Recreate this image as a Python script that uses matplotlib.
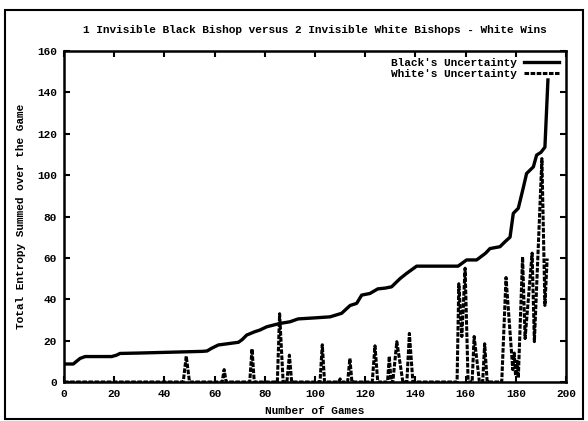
import matplotlib
matplotlib.use("Agg")
import matplotlib.pyplot as plt
from matplotlib.patches import Rectangle

# Black's uncertainty (breakpoints)
black_x = [0, 3.7, 5, 6.4, 8.4, 19, 21, 22.3, 30, 55, 57, 58.8, 61.5, 64, 69.5, 71,
           72.8, 76, 78, 80.8, 86, 90, 93.3, 100, 106, 110.6, 114, 116.6, 118.6, 121.9,
           125, 128, 130.5, 133.9, 136.5, 140.5, 157, 160.4, 164.4, 168, 169.7, 173.7,
           175.7, 177.7, 179, 181, 183, 184.3, 187, 188.3, 190, 191.6, 192.8]
black_y = [8.7, 8.7, 10, 11.4, 12.3, 12.3, 13, 13.8, 14, 14.8, 15, 16.3, 17.9, 18.3, 19.2, 20.5,
           22.7, 24.3, 25.1, 26.7, 28.3, 29.1, 30.5, 31, 31.5, 33.2, 37, 38, 42, 42.8,
           45, 45.4, 46, 50, 52.5, 56, 56, 59, 59, 62.3, 64.5, 65.4,
           67.8, 70, 81.5, 84, 94, 100.8, 104, 109.7, 111, 113.5, 146]

# White's uncertainty (breakpoints)
white_x = [0, 47.5, 48.7, 50, 63, 63.8, 64.6, 74, 74.9, 75.8, 85, 85.9, 87.3, 88.8, 89.8, 90.7,
           102, 102.9, 103.8, 109.5, 110, 110.5, 113, 113.9, 114.7, 122.8, 123.9, 125,
           128.9, 129.6, 130.3, 131, 132.6, 135, 136.6, 137.6, 139,
           156.6, 157.3, 158.5, 159.8, 161, 162.6, 163.4, 165.5, 166.8, 167.6, 168.6,
           174.4, 176.1, 178.8, 179.4, 179.9, 180.6, 181, 182.7, 183.7, 186.5, 187.4,
           190.4, 191.6, 192.5]
white_y = [0, 0, 12.5, 0, 0, 6, 0, 0, 16, 0, 0, 33, 0, 0, 13, 0,
           0, 18, 0, 0, 1.5, 0, 0, 11.4, 0, 0, 17.5, 0,
           0, 12.5, 0, 0, 19.5, 0, 0, 23.5, 0,
           0, 47.5, 22, 55, 0, 0, 22, 0, 0, 18.5, 0,
           0, 50.5, 6, 14, 3, 10, 2, 60.5, 21, 62.3, 19.5,
           108, 37, 59.7]

title = "1 Invisible Black Bishop versus 2 Invisible White Bishops - White Wins"
xlabel = "Number of Games"
ylabel = "Total Entropy Summed over the Game"
labels = ["Black's Uncertainty", "White's Uncertainty"]

plt.rcParams['font.family'] = ['Liberation Mono', 'DejaVu Sans Mono']
plt.rcParams['font.weight'] = 'bold'

fig = plt.figure(figsize=(5.88, 4.21), dpi=100)
ax = fig.add_axes([64/588, 1-382/421, (566-64)/588, (382-51)/421])

ax.plot(black_x, black_y, color='black', lw=2.4, solid_joinstyle='round', label=labels[0])
ax.plot(white_x, white_y, color='black', lw=2.2, linestyle=(0, (1.5, 0.5)), label=labels[1])

ax.set_xlim(0, 200)
ax.set_ylim(0, 160)
ax.set_xticks(range(0, 201, 20))
ax.set_yticks(range(0, 161, 20))
ax.tick_params(direction='in', length=4, width=1.5, top=True, right=True,
               labelsize=8, pad=5)
for lab in ax.get_xticklabels() + ax.get_yticklabels():
    lab.set_fontweight('bold')
for s in ax.spines.values():
    s.set_linewidth(1.8)

ax.set_xlabel(xlabel, fontsize=8, fontweight='bold', labelpad=5)
ax.set_ylabel(ylabel, fontsize=8, fontweight='bold', labelpad=8)
fig.text(315/588, 1-30/421, title, ha='center', va='center', fontsize=8, fontweight='bold')

leg = ax.legend(loc='upper right', frameon=False, markerfirst=False, fontsize=8,
                handlelength=3.2, borderaxespad=0.2, labelspacing=0.1, handletextpad=0.6)

fig.patches.append(Rectangle((5/588, 1-419/421), (583-5)/588, (419-10)/421,
                             transform=fig.transFigure, fill=False, lw=1.5, ec='black'))

fig.savefig("out.png", dpi=100)
